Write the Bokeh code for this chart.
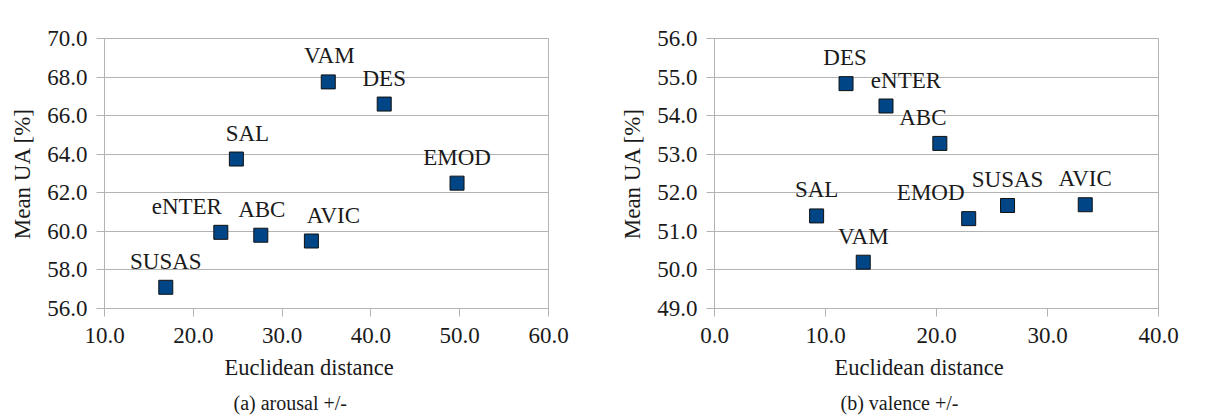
from bokeh.plotting import figure
from bokeh.layouts import row
from bokeh.models import ColumnDataSource, FixedTicker, NumeralTickFormatter, Range1d, Title
from bokeh.embed import file_html
from bokeh.resources import INLINE
from bokeh.core.properties import value

# ---- data (a) arousal +/- ----
arousal_names = ["SUSAS", "eNTER", "SAL", "ABC", "AVIC", "VAM", "DES", "EMOD"]
arousal_dist = [16.9, 23.1, 24.85, 27.6, 33.3, 35.2, 41.5, 49.7]
arousal_ua = [57.1, 59.95, 63.75, 59.8, 59.5, 67.75, 66.6, 62.5]

# ---- data (b) valence +/- ----
valence_names = ["SAL", "DES", "VAM", "eNTER", "ABC", "EMOD", "SUSAS", "AVIC"]
valence_dist = [9.2, 11.85, 13.4, 15.45, 20.3, 22.9, 26.4, 33.4]
valence_ua = [51.4, 54.83, 50.2, 54.25, 53.28, 51.33, 51.67, 51.69]

arousal_xticks = [10, 20, 30, 40, 50, 60]
arousal_yticks = [56, 58, 60, 62, 64, 66, 68, 70]
valence_xticks = [0, 10, 20, 30, 40]
valence_yticks = [49, 50, 51, 52, 53, 54, 55, 56]

x_title = "Euclidean distance"
y_title = "Mean UA [%]"

# label offsets in screen pixels (style only)
arousal_dx = [0, -34, 11, 1, 22, 1, 0, 0]
valence_dx = [0, -1, 0, 20, -17, -38, 0, 0]

FONT = "Liberation Serif"
GRID = "#b3b3b3"
TEXT = "#1a1a1a"
BLUE = "#004586"
H = 417


def make(names, xs, ys, dx, xr, yr, xt, yt, caption, left_border, width, xlab_off, cap_off):
    p = figure(width=width, height=H, output_backend="svg", toolbar_location=None,
               x_range=Range1d(*xr), y_range=Range1d(*yr),
               min_border_left=left_border, min_border_right=width - left_border - 444,
               min_border_top=38, min_border_bottom=H - 38 - 270)
    p.frame_width = 444
    p.frame_height = 270
    src = ColumnDataSource(dict(x=xs, y=ys, name=names, dx=dx))
    p.scatter("x", "y", source=src, marker="square", size=14,
              fill_color=BLUE, line_color="#111111", line_width=1)
    p.text("x", "y", text="name", source=src, x_offset="dx", y_offset=-26,
           text_align="center", text_baseline="middle",
           text_font=value(FONT), text_font_size="23px", text_color=TEXT)
    p.xgrid.grid_line_color = None
    p.ygrid.grid_line_color = GRID
    p.ygrid.grid_line_width = 1
    p.outline_line_color = GRID
    p.outline_line_width = 1
    p.background_fill_color = "white"
    p.border_fill_color = "white"
    p.xaxis.ticker = FixedTicker(ticks=xt)
    p.yaxis.ticker = FixedTicker(ticks=yt)
    for ax in (p.xaxis[0], p.yaxis[0]):
        ax.formatter = NumeralTickFormatter(format="0.0")
        ax.axis_line_color = GRID
        ax.major_tick_line_color = GRID
        ax.major_tick_out = 8
        ax.major_tick_in = 0
        ax.minor_tick_line_color = None
        ax.major_label_text_font = FONT
        ax.major_label_text_font_size = "23px"
        ax.major_label_text_color = TEXT
        ax.axis_label_text_font = FONT
        ax.axis_label_text_font_size = "23px"
        ax.axis_label_text_font_style = "normal"
        ax.axis_label_text_color = TEXT
    p.yaxis.axis_label = y_title
    p.xaxis.major_label_standoff = 11
    p.yaxis.major_label_standoff = 9
    p.yaxis.axis_label_standoff = 9
    t1 = Title(text=x_title, align="left", offset=xlab_off, text_font=FONT,
               text_font_size="22.5px", text_font_style="normal", text_color=TEXT, standoff=14)
    p.add_layout(t1, "below")
    t2 = Title(text=caption, align="left", offset=cap_off, text_font=FONT,
               text_font_size="20px", text_font_style="normal", text_color=TEXT, standoff=6)
    p.add_layout(t2, "below")
    return p


pa = make(arousal_names, arousal_dist, arousal_ua, arousal_dx, (10, 60), (56, 70),
          arousal_xticks, arousal_yticks, "(a) arousal +/-", 104, 600, 120, 129)
pb = make(valence_names, valence_dist, valence_ua, valence_dx, (0, 40), (49, 56),
          valence_xticks, valence_yticks, "(b) valence +/-", 114, 600, 120, 126)

layout = row(pa, pb)
open("out.html", "w").write(file_html(layout, INLINE))
